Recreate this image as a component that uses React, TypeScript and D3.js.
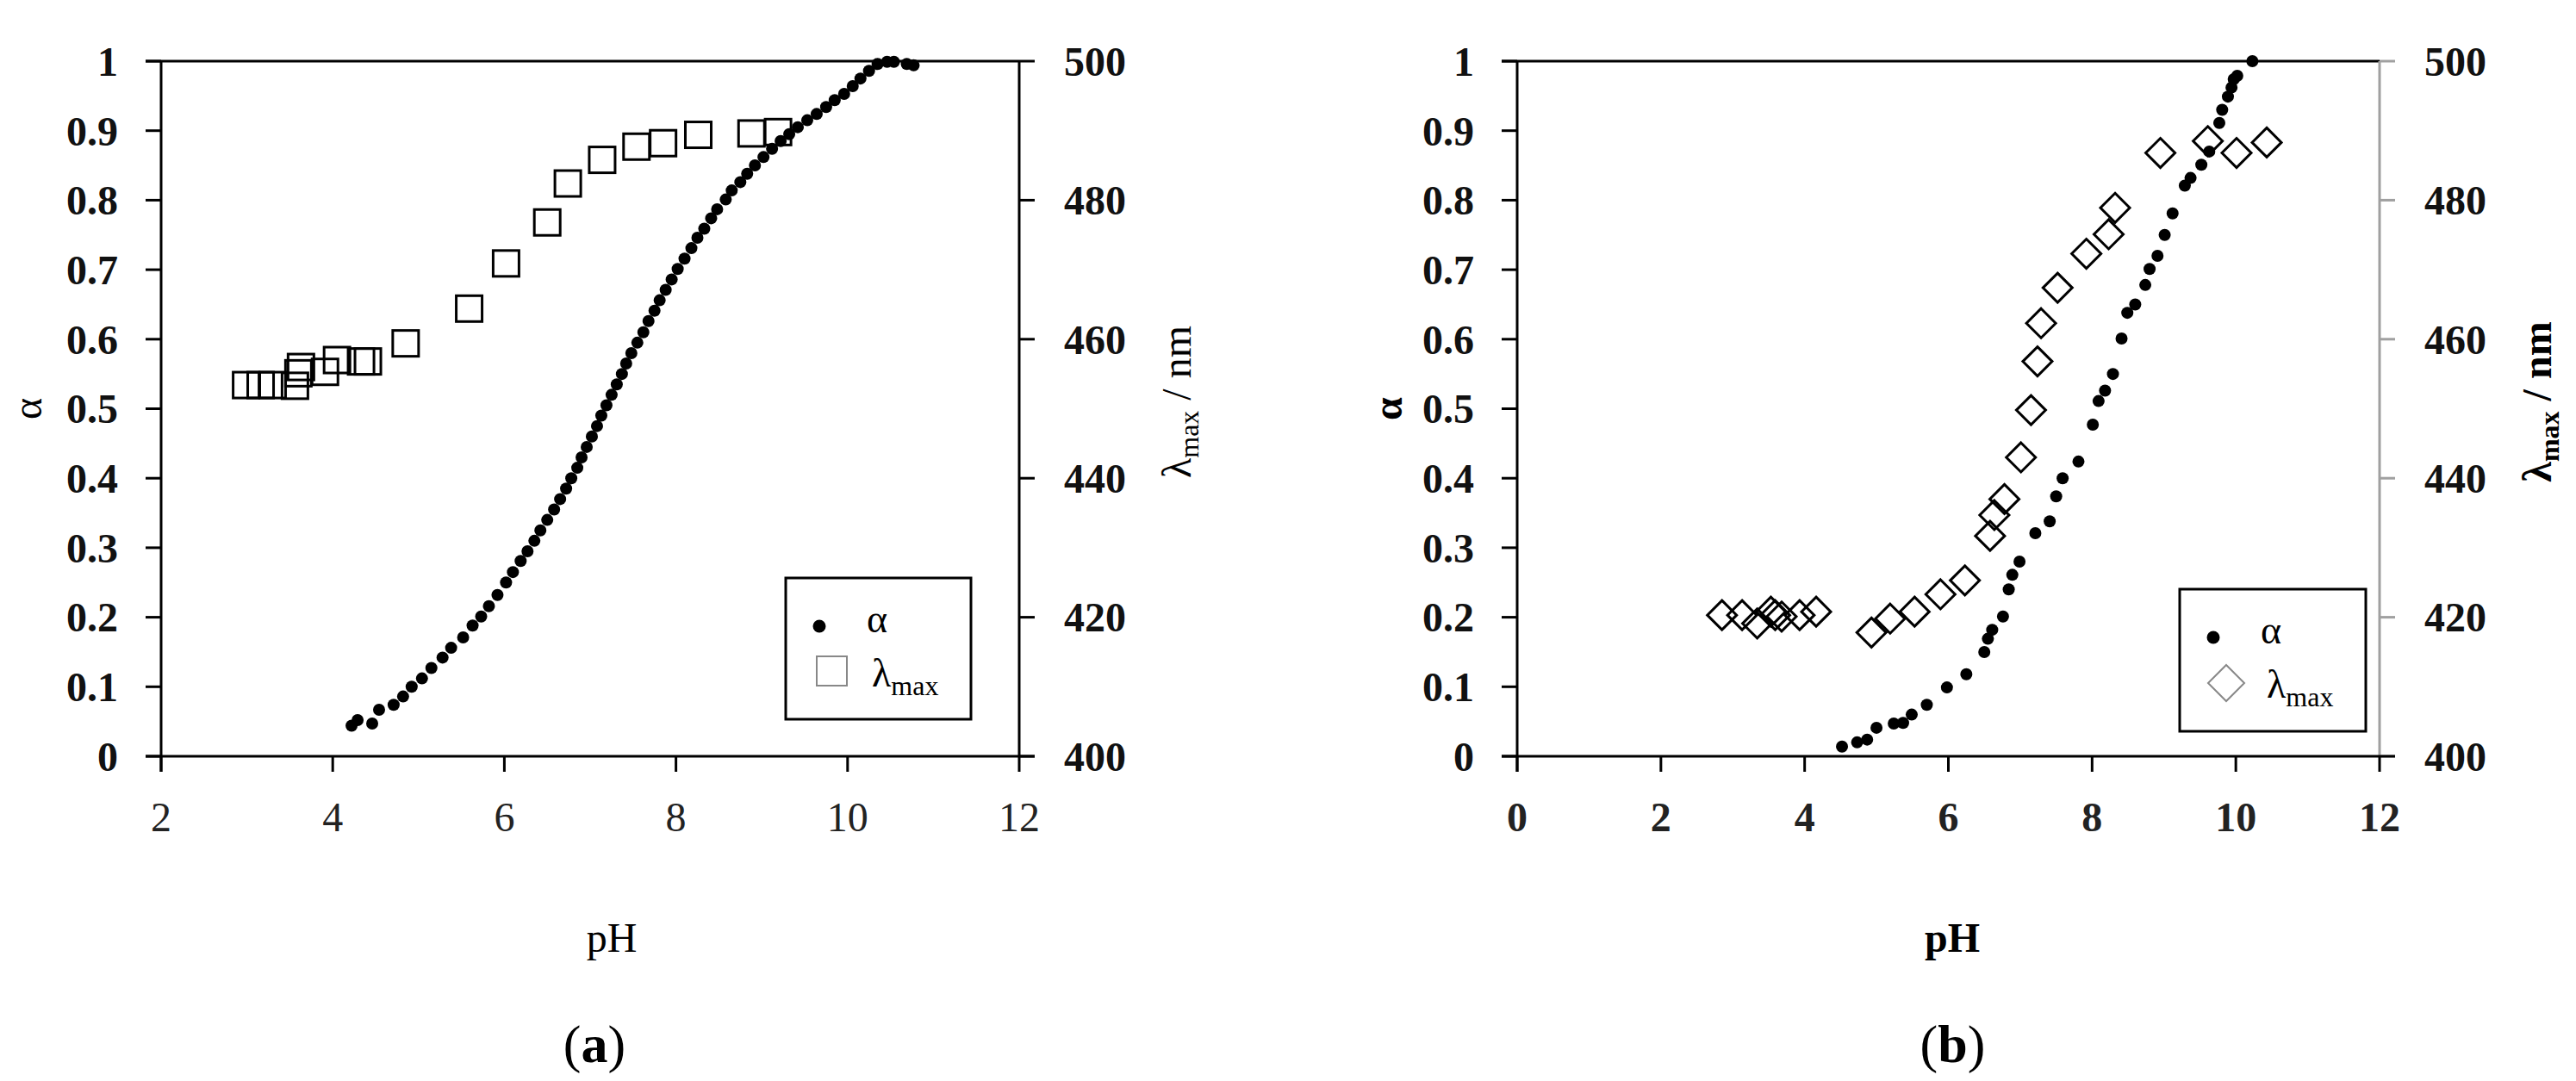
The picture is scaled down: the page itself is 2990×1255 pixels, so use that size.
import React, { useEffect } from 'react';
import * as d3 from 'd3';

// ---- panel (a) : alpha (dots) and lambda max (squares) vs pH
const phAlphaA = [4.22, 4.29, 4.46, 4.54, 4.71, 4.82, 4.92, 5.04, 5.15, 5.28, 5.38, 5.52, 5.63, 5.73, 5.82, 5.92, 6.02, 6.1, 6.19, 6.27, 6.35, 6.42, 6.5, 6.58, 6.65, 6.72, 6.78, 6.85, 6.9, 6.96, 7.02, 7.08, 7.13, 7.19, 7.25, 7.31, 7.37, 7.42, 7.48, 7.55, 7.62, 7.68, 7.75, 7.81, 7.88, 7.95, 8.02, 8.1, 8.18, 8.25, 8.33, 8.41, 8.48, 8.58, 8.65, 8.75, 8.83, 8.92, 9.02, 9.12, 9.22, 9.32, 9.42, 9.53, 9.64, 9.75, 9.85, 9.96, 10.06, 10.15, 10.25, 10.35, 10.46, 10.54, 10.69, 10.77];
const alphaA = [0.044, 0.052, 0.047, 0.067, 0.074, 0.086, 0.1, 0.112, 0.127, 0.142, 0.156, 0.171, 0.188, 0.201, 0.216, 0.232, 0.25, 0.265, 0.281, 0.295, 0.31, 0.325, 0.34, 0.355, 0.37, 0.385, 0.4, 0.415, 0.43, 0.445, 0.46, 0.475, 0.49, 0.505, 0.52, 0.535, 0.55, 0.565, 0.58, 0.595, 0.61, 0.626, 0.641, 0.656, 0.671, 0.686, 0.701, 0.716, 0.731, 0.746, 0.759, 0.774, 0.787, 0.801, 0.814, 0.826, 0.838, 0.85, 0.862, 0.874, 0.885, 0.895, 0.905, 0.915, 0.924, 0.934, 0.944, 0.953, 0.964, 0.975, 0.986, 0.996, 0.999, 0.999, 0.996, 0.994];
const phLambdaA = [2.99, 3.16, 3.3, 3.56, 3.6, 3.63, 3.91, 4.05, 4.33, 4.41, 4.85, 5.59, 6.02, 6.5, 6.74, 7.14, 7.54, 7.85, 8.26, 8.88, 9.19];
const lambdaA = [453.4, 453.4, 453.4, 453.3, 455.1, 456.0, 455.3, 457.0, 456.8, 456.8, 459.4, 464.4, 470.9, 476.8, 482.4, 485.8, 487.7, 488.2, 489.4, 489.6, 489.8];

// ---- panel (b) : alpha (dots) and lambda max (diamonds) vs pH
const phAlphaB = [4.52, 4.73, 4.87, 5.0, 5.24, 5.37, 5.49, 5.7, 5.98, 6.25, 6.5, 6.55, 6.61, 6.76, 6.84, 6.89, 6.99, 7.21, 7.41, 7.5, 7.59, 7.81, 8.01, 8.09, 8.18, 8.29, 8.41, 8.49, 8.6, 8.74, 8.8, 8.91, 9.01, 9.12, 9.29, 9.37, 9.52, 9.63, 9.77, 9.81, 9.89, 9.94, 9.97, 10.02, 10.23];
const alphaB = [0.014, 0.02, 0.024, 0.041, 0.047, 0.048, 0.06, 0.074, 0.099, 0.118, 0.15, 0.169, 0.182, 0.201, 0.24, 0.261, 0.28, 0.321, 0.338, 0.374, 0.4, 0.424, 0.477, 0.511, 0.526, 0.55, 0.601, 0.638, 0.65, 0.678, 0.701, 0.72, 0.75, 0.781, 0.821, 0.832, 0.851, 0.87, 0.911, 0.93, 0.949, 0.962, 0.974, 0.979, 1.0];
const phLambdaB = [2.85, 3.13, 3.34, 3.53, 3.59, 3.68, 3.93, 4.16, 4.93, 5.19, 5.53, 5.89, 6.23, 6.58, 6.64, 6.78, 7.01, 7.15, 7.24, 7.29, 7.52, 7.92, 8.23, 8.32, 8.95, 9.61, 10.01, 10.43];
const lambdaB = [420.3, 420.3, 419.1, 420.8, 420.3, 420.1, 420.3, 420.8, 417.8, 419.8, 420.8, 423.3, 425.3, 431.7, 434.7, 437.0, 443.0, 449.8, 456.8, 462.3, 467.4, 472.3, 475.1, 478.9, 486.8, 488.5, 486.8, 488.3];

// ---- axis ticks
const xTicksA = [2, 4, 6, 8, 10, 12];
const xTicksB = [0, 2, 4, 6, 8, 10, 12];
const alphaTicks = [0, 0.1, 0.2, 0.3, 0.4, 0.5, 0.6, 0.7, 0.8, 0.9, 1];
const lambdaTicks = [400, 420, 440, 460, 480, 500];

const FONT = '"Liberation Serif", "Times New Roman", serif';
const TOP = 71;
const BOTTOM = 878;
const TICK = 18;

function Panel(props) {
  const { x0, x1, xDomain, xTicks, ph, alpha, phL, lam, marker, bold, rightColor, legend, caption, phLabelX, alphaTitleX } = props;

  const x = d3.scaleLinear().domain(xDomain).range([x0, x1]);
  const y = d3.scaleLinear().domain([0, 1]).range([BOTTOM, TOP]);
  const yR = d3.scaleLinear().domain([400, 500]).range([BOTTOM, TOP]);

  const xWeight = bold ? 'bold' : 'normal';
  const titleWeight = bold ? 'bold' : 'normal';

  const diamond = (cx, cy, h) => `M${cx},${cy - h}L${cx + h},${cy}L${cx},${cy + h}L${cx - h},${cy}Z`;

  return (
    <g fontFamily={FONT}>
      {/* top border */}
      <line x1={x0 - TICK} x2={x1} y1={TOP} y2={TOP} stroke="#000" strokeWidth={3} />
      {/* left axis */}
      <line x1={x0} x2={x0} y1={TOP} y2={BOTTOM + TICK} stroke="#000" strokeWidth={3} />
      {alphaTicks.map(t => (
        <g key={'a' + t}>
          <line x1={x0 - TICK} x2={x0} y1={y(t)} y2={y(t)} stroke="#000" strokeWidth={3} />
          <text x={x0 - 50} y={y(t)} dy="0.35em" textAnchor="end" fontSize={48} fontWeight="bold" fill="#111">{d3.format('~g')(t)}</text>
        </g>
      ))}
      {/* right axis */}
      <line x1={x1} x2={x1} y1={TOP} y2={BOTTOM} stroke={rightColor} strokeWidth={3} />
      {lambdaTicks.map(t => (
        <g key={'l' + t}>
          <line x1={x1} x2={x1 + TICK} y1={yR(t)} y2={yR(t)} stroke={rightColor} strokeWidth={3} />
          <text x={x1 + 52} y={yR(t)} dy="0.35em" textAnchor="start" fontSize={48} fontWeight="bold" fill="#111">{t}</text>
        </g>
      ))}
      {/* bottom axis */}
      <line x1={x0 - TICK} x2={x1 + TICK} y1={BOTTOM} y2={BOTTOM} stroke="#000" strokeWidth={3} />
      {xTicks.map(t => (
        <g key={'x' + t}>
          <line x1={x(t)} x2={x(t)} y1={BOTTOM} y2={BOTTOM + TICK} stroke="#000" strokeWidth={3} />
          <text x={x(t)} y={965} textAnchor="middle" fontSize={48} fontWeight={xWeight} fill="#222">{t}</text>
        </g>
      ))}

      {/* axis titles */}
      <text transform={`translate(${alphaTitleX},${(TOP + BOTTOM) / 2}) rotate(-90)`} textAnchor="middle" dy="0.35em" fontSize={48} fontWeight={titleWeight}>α</text>
      <text x={phLabelX} y={1105} textAnchor="middle" fontSize={48} fontWeight={titleWeight}>pH</text>
      <text transform={`translate(${x1 + 182},${(TOP + BOTTOM) / 2 - 8}) rotate(-90)`} textAnchor="middle" dy="0.35em" fontSize={48} fontWeight={titleWeight}>
        λ<tspan fontSize={32} dy={9}>max</tspan><tspan dy={-9}> / nm</tspan>
      </text>

      {/* lambda max markers */}
      {phL.map((p, i) => marker === 'square'
        ? <rect key={'s' + i} x={x(p) - 15} y={yR(lam[i]) - 15} width={30} height={30} fill="none" stroke="#000" strokeWidth={3} />
        : <path key={'d' + i} d={diamond(x(p), yR(lam[i]), 17)} fill="none" stroke="#000" strokeWidth={3} />
      )}
      {/* alpha dots */}
      {ph.map((p, i) => (
        <circle key={'c' + i} cx={x(p)} cy={y(alpha[i])} r={7} fill="#000" />
      ))}

      {/* legend */}
      <rect x={legend.x} y={legend.y} width={legend.w} height={legend.h} fill="#fff" stroke="#000" strokeWidth={3} />
      <circle cx={legend.x + 39} cy={legend.y + 56} r={7.5} fill="#000" />
      <text x={legend.x + 94} y={legend.y + 63} fontSize={46}>α</text>
      {marker === 'square'
        ? <rect x={legend.x + 36} y={legend.y + 91} width={35} height={34} fill="none" stroke="#888" strokeWidth={2} />
        : <path d={diamond(legend.x + 54, legend.y + 109, 21)} fill="none" stroke="#888" strokeWidth={2} />}
      <text x={legend.x + (marker === 'square' ? 100 : 101)} y={legend.y + 126} fontSize={46}>
        λ<tspan fontSize={32} dy={10}>max</tspan>
      </text>

      {/* caption */}
      <text x={(x0 + x1) / 2 + 5} y={1233} textAnchor="middle" fontSize={62}>
        (<tspan fontWeight="bold">{caption}</tspan>)
      </text>
    </g>
  );
}

export default function App() {
  useEffect(() => {
    document.body.style.margin = '0';
    document.body.style.background = '#fff';
  }, []);

  return (
    <svg width={2990} height={1255} style={{ display: 'block', background: '#fff' }}>
      <Panel
        x0={187} x1={1183} xDomain={[2, 12]} xTicks={xTicksA}
        ph={phAlphaA} alpha={alphaA} phL={phLambdaA} lam={lambdaA}
        marker="square" bold={false} rightColor="#000"
        legend={{ x: 912, y: 671, w: 215, h: 164 }}
        caption="a" phLabelX={710} alphaTitleX={31}
      />
      <Panel
        x0={1761} x1={2762} xDomain={[0, 12]} xTicks={xTicksB}
        ph={phAlphaB} alpha={alphaB} phL={phLambdaB} lam={lambdaB}
        marker="diamond" bold={true} rightColor="#a0a0a0"
        legend={{ x: 2530, y: 684, w: 216, h: 165 }}
        caption="b" phLabelX={2266} alphaTitleX={1610}
      />
    </svg>
  );
}
